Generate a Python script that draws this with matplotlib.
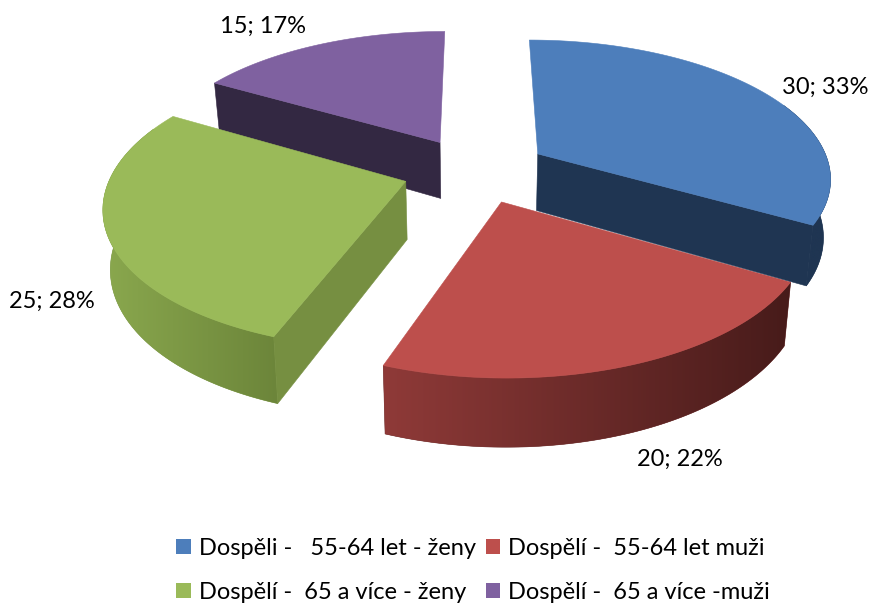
import numpy as np
import matplotlib
matplotlib.use("Agg")
import matplotlib.pyplot as plt
from matplotlib.patches import Polygon, Patch
from matplotlib.colors import to_rgb

categories = ["Dospěli -   55-64 let - ženy", "Dospělí -  55-64 let muži",
              "Dospělí -  65 a více - ženy", "Dospělí -  65 a více -muži"]
values = [30, 20, 25, 15]
labels = ["30; 33%", "20; 22%", "25; 28%", "15; 17%"]
top_colors = ["#4d7ebb", "#bd4f4c", "#9aba59", "#7f61a0"]
rim_left = ["#1f3552", "#8f3a38", "#8aa84e", "#322847"]
rim_right = ["#1f3552", "#471b1a", "#6c853a", "#322847"]
cut_colors = ["#1f3552", "#4a1d1c", "#768f41", "#332842"]
label_pos = [(825, 87), (680, 459), (52, 301), (263, 26)]

plt.rcParams["font.family"] = ["Lato", "DejaVu Sans"]
fig = plt.figure(figsize=(8.71, 6.06), dpi=100)
ax = fig.add_axes([0, 0, 1, 1])
ax.axis("off")

CX, CY, RX, RY, K = 475.5, 170, 293, 136.7, 0.159
EXPL_X, EXPL_Y = 0.25, 0.24
DEPTH, DEPTH_POW, SHRINK = 57.5, 0.85, 0.98


def top(u, v):
    w = 1 + K * v
    return np.column_stack([CX + RX * u / w, CY - RY * v / w])


def bottom(u, v):
    w = 1 + K * v
    p = top(u, v)
    p[:, 0] = CX + (p[:, 0] - CX) * SHRINK
    p[:, 1] = p[:, 1] + DEPTH / w ** DEPTH_POW
    return p


total = sum(values)
edges = np.radians(np.cumsum([0] + values) / total * 360)


def poly(pts, color, z):
    ax.add_patch(Polygon(pts, closed=True, facecolor=color, edgecolor=color, lw=0.4, zorder=z))


# painting order as in the reference: blue lies over red, green over purple
visible_cuts = {0: [-1], 1: [], 2: [0], 3: [0]}
for z, i in enumerate([3, 2, 1, 0]):
    a0, a1 = edges[i], edges[i + 1]
    mid = (a0 + a1) / 2
    ou, ov = EXPL_X * np.sin(mid), EXPL_Y * np.cos(mid)
    th = np.linspace(a0, a1, 121)
    u = ou + np.sin(th)
    v = ov + np.cos(th)
    au, av = np.array([ou]), np.array([ov])
    base = z * 10
    T, B = top(u, v), bottom(u, v)
    # rim: the front part of the arc, filled with a horizontal gradient
    front = np.cos(th) < 0.4
    if i != 3:
        rim = np.vstack([T[front], B[front][::-1]])
        c0, c1 = np.array(to_rgb(rim_left[i])), np.array(to_rgb(rim_right[i]))
        poly(rim, (c0 + c1) / 2, base + 1)
        rim_patch = Polygon(rim, closed=True, facecolor="none", edgecolor="none")
        ax.add_patch(rim_patch)
        grad = np.linspace(0, 1, 256)[None, :, None] * (c1 - c0) + c0
        x0, x1 = rim[:, 0].min(), rim[:, 0].max()
        y0, y1 = rim[:, 1].min(), rim[:, 1].max()
        im = ax.imshow(grad, extent=(x0, x1, y1, y0), aspect="auto", zorder=base + 2,
                       interpolation="bilinear")
        im.set_clip_path(rim_patch)
    for e in visible_cuts[i]:
        eu, ev = u[[e]], v[[e]]
        pts = np.vstack([top(au, av), top(eu, ev), bottom(eu, ev), bottom(au, av)])
        poly(pts, cut_colors[i], base + 3)
    poly(np.vstack([top(au, av), T]), top_colors[i], base + 4)

ax.set_xlim(0, 871)
ax.set_ylim(606, 0)

for lab, (x, y) in zip(labels, label_pos):
    ax.text(x, y, lab, fontsize=17, ha="center", va="center", color="black", zorder=100)

order = [0, 2, 1, 3]
handles = [Patch(facecolor=top_colors[i], edgecolor="none", label=categories[i]) for i in order]
ax.legend(handles=handles, ncol=2, loc="center", bbox_to_anchor=(473 / 871, 1 - 570.5 / 606),
          bbox_transform=fig.transFigure, frameon=False, fontsize=17,
          handlelength=0.6, handleheight=0.6, handletextpad=0.34, columnspacing=0.42,
          labelspacing=1.0, borderpad=0, borderaxespad=0)

fig.savefig("out.png", dpi=100)
